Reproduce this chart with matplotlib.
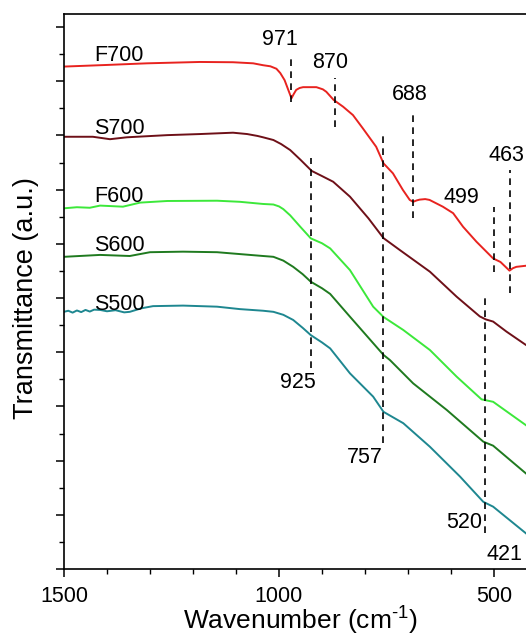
import matplotlib
matplotlib.use("Agg")
import matplotlib.pyplot as plt
from matplotlib.ticker import MultipleLocator, NullFormatter

plt.rcParams['font.family'] = ['Liberation Sans', 'DejaVu Sans']
plt.rcParams['mathtext.fontset'] = 'custom'
plt.rcParams['mathtext.rm'] = 'Liberation Sans'
plt.rcParams['mathtext.it'] = 'Liberation Sans:italic'

# ---- FTIR spectra (wavenumber in cm^-1, transmittance in a.u., offset) ----
F700_wn = [1500, 1400, 1307, 1184, 1107, 1060, 1037, 1020, 1006, 997, 987, 977, 971, 966,
           960, 952, 944, 913, 898, 890, 873, 851, 828, 805, 774, 757, 735, 712, 696,
           688, 680, 673, 660, 650, 619, 595, 572, 541, 502, 485, 464, 456, 448, 426, 420]
F700_t = [18.54, 18.60, 18.66, 18.71, 18.70, 18.66, 18.59, 18.55, 18.46, 18.30, 18.04,
          17.62, 17.37, 17.52, 17.68, 17.75, 17.78, 17.78, 17.70, 17.61, 17.31, 17.06,
          16.75, 16.26, 15.58, 14.97, 14.60, 13.99, 13.62, 13.55, 13.60, 13.63, 13.65,
          13.62, 13.37, 13.13, 12.63, 12.08, 11.46, 11.33, 11.01, 11.10, 11.15, 11.19,
          11.19]

S700_wn = [1500, 1433, 1393, 1354, 1260, 1184, 1107, 1074, 1050, 1037, 1013, 995, 974,
           950, 924, 900, 874, 835, 792, 757, 719, 649, 587, 533, 519, 502, 471, 426, 420]
S700_t = [15.95, 15.95, 15.86, 15.93, 16.01, 16.05, 16.10, 16.05, 15.98, 15.93, 15.83,
          15.68, 15.46, 15.10, 14.69, 14.50, 14.29, 13.74, 12.94, 12.21, 11.77, 10.97,
          10.05, 9.32, 9.21, 9.13, 8.76, 8.27, 8.22]

F600_wn = [1500, 1470, 1440, 1416, 1363, 1323, 1260, 1144, 1091, 1037, 1013, 1000, 990,
           974, 950, 926, 900, 881, 835, 781, 757, 711, 649, 587, 529, 502, 426, 420]
F600_t = [13.31, 13.35, 13.33, 13.41, 13.37, 13.52, 13.58, 13.59, 13.55, 13.47, 13.45,
          13.38, 13.28, 13.05, 12.62, 12.20, 12.02, 11.83, 11.03, 9.68, 9.30, 8.82,
          8.08, 7.10, 6.26, 6.17, 5.31, 5.24]

S600_wn = [1500, 1416, 1347, 1300, 1223, 1144, 1037, 1013, 990, 967, 945, 926, 900, 881,
           835, 757, 742, 688, 610, 525, 502, 426, 420]
S600_t = [11.52, 11.59, 11.55, 11.69, 11.71, 11.69, 11.55, 11.52, 11.38, 11.15, 10.88,
          10.60, 10.36, 10.15, 9.31, 7.90, 7.71, 6.85, 5.87, 4.70, 4.55, 3.53, 3.45]

S500_wn = [1500, 1490, 1480, 1470, 1460, 1450, 1440, 1430, 1416, 1400, 1380, 1360, 1347,
           1320, 1293, 1223, 1144, 1091, 1037, 1013, 990, 967, 945, 926, 900, 881, 835,
           781, 757, 711, 649, 579, 525, 502, 426, 420]
S500_t = [9.49, 9.53, 9.46, 9.54, 9.48, 9.56, 9.50, 9.57, 9.56, 9.51, 9.55, 9.47, 9.49,
          9.62, 9.70, 9.72, 9.68, 9.59, 9.53, 9.49, 9.38, 9.19, 8.90, 8.63, 8.36, 8.14,
          7.22, 6.36, 5.80, 5.38, 4.51, 3.41, 2.48, 2.30, 1.32, 1.24]

series_names = ["F700", "S700", "F600", "S600", "S500"]
series_colors = ["#E8231F", "#6E1018", "#3CE83A", "#1F7A1F", "#1E8790"]
series_label_y = [18.95, 16.25, 13.75, 11.95, 9.75]

# ---- marked absorption bands: position, dashed-line span, label position ----
band_wn = [971, 870, 688, 499, 463, 925, 757, 520]
band_lo = [17.23, 16.31, 12.95, 10.96, 10.18, 7.42, 4.65, 1.33]
band_hi = [19.00, 18.12, 16.94, 13.36, 14.72, 15.17, 16.09, 10.00]
band_text_wn = [997, 880, 695, 575, 470, 955, 800, 570]
band_text_t = [19.55, 18.70, 17.50, 13.70, 15.27, 6.87, 4.10, 1.70]
extra_label = ("421", 475, 0.52)

fig = plt.figure(figsize=(5.26, 6.37), dpi=100)
ax = fig.add_axes([64 / 526, 68 / 637, 473 / 526, 555 / 637])

for name, wn, t, c in zip(series_names,
                          [F700_wn, S700_wn, F600_wn, S600_wn, S500_wn],
                          [F700_t, S700_t, F600_t, S600_t, S500_t],
                          series_colors):
    ax.plot(wn, t, color=c, lw=1.4, solid_joinstyle='round')

for name, ly in zip(series_names, series_label_y):
    ax.text(1430, ly, name, fontsize=15.5, ha='left', va='center', color='black')

for wn, lo, hi in zip(band_wn, band_lo, band_hi):
    ax.plot([wn, wn], [lo, hi], color='black', lw=1.2, ls=(0, (4, 3.2)))

for wn, tx, ty in zip(band_wn, band_text_wn, band_text_t):
    ax.text(tx, ty, str(wn), fontsize=15.5, ha='center', va='center')
ax.text(extra_label[1], extra_label[2], extra_label[0], fontsize=15.5, ha='center', va='center')

ax.set_xlim(1500, 400)
ax.set_ylim(0, 20.48)

ax.xaxis.set_major_locator(MultipleLocator(500))
ax.xaxis.set_minor_locator(MultipleLocator(100))
ax.yaxis.set_major_locator(MultipleLocator(2))
ax.yaxis.set_minor_locator(MultipleLocator(1))
ax.yaxis.set_major_formatter(NullFormatter())
ax.tick_params(axis='both', which='major', direction='out', length=6, width=1.1,
               labelsize=15.5, pad=6)
ax.tick_params(axis='both', which='minor', direction='out', length=3.5, width=1.0)
ax.tick_params(axis='x', top=False)
ax.tick_params(axis='y', right=False)

for side in ['left', 'top', 'bottom']:
    ax.spines[side].set_linewidth(1.2)
ax.spines['right'].set_visible(False)

ax.set_xlabel("Wavenumber (cm$^{\u2010\\mathregular{1}}$)", fontsize=19)
ax.xaxis.label.set_va('baseline')
ax.xaxis.set_label_coords(0.5, -0.110)
ax.set_ylabel("Transmittance (a.u.)", fontsize=19.5)
ax.yaxis.label.set_va('center')
ax.yaxis.set_label_coords(-0.080, 0.488)

fig.savefig("out.png", dpi=100)
